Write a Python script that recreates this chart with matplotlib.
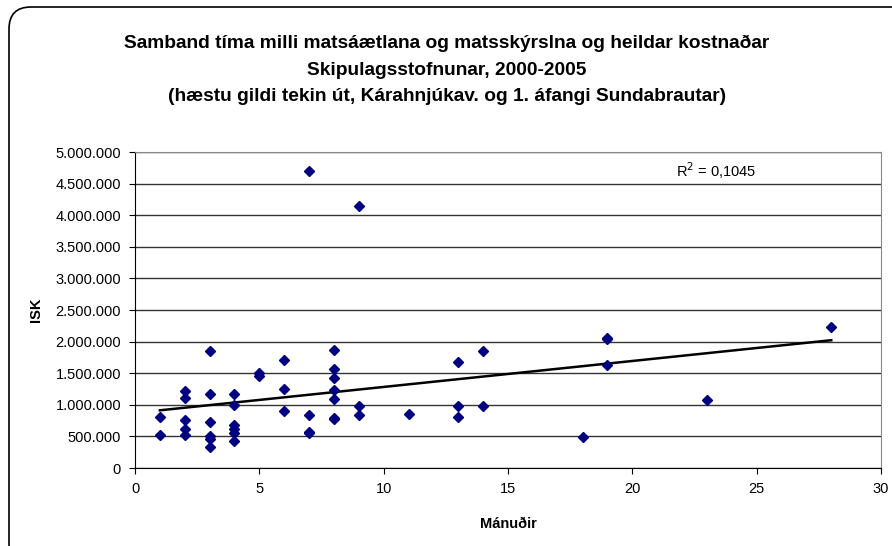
import numpy as np
import matplotlib.pyplot as plt
from matplotlib.patches import FancyBboxPatch
from matplotlib.transforms import IdentityTransform
from matplotlib.ticker import FuncFormatter

plt.rcParams['font.family'] = ['Liberation Sans', 'DejaVu Sans']

# months between plan and report
manudir = [1, 1,
           2, 2, 2, 2, 2,
           3, 3, 3, 3, 3, 3,
           4, 4, 4, 4, 4, 4,
           5, 5,
           6, 6, 6,
           7, 7, 7, 7,
           8, 8, 8, 8, 8, 8, 8,
           9, 9, 9,
           11,
           13, 13, 13,
           14, 14,
           18,
           19, 19, 19,
           23,
           28]
# total cost, ISK
kostn = [800000, 530000,
         1220000, 1100000, 760000, 610000, 515000,
         1845000, 1165000, 735000, 500000, 455000, 335000,
         1175000, 990000, 680000, 620000, 560000, 425000,
         1500000, 1450000,
         1715000, 1255000, 905000,
         4695000, 840000, 570000, 555000,
         1870000, 1570000, 1430000, 1240000, 1095000, 790000, 775000,
         4150000, 980000, 840000,
         860000,
         1670000, 980000, 800000,
         1845000, 980000,
         490000,
         2055000, 2040000, 1625000,
         1070000,
         2235000]

titill = ('Samband tíma milli matsáætlana og matsskýrslna og heildar kostnaðar\n'
          'Skipulagsstofnunar, 2000-2005\n'
          '(hæstu gildi tekin út, Kárahnjúkav. og 1. áfangi Sundabrautar)')

fig = plt.figure(figsize=(8.92, 5.46), dpi=100)
ax = fig.add_axes([135 / 892, 1 - 468 / 546, 746 / 892, 316 / 546])

# outer rounded chart border
fig.patches.append(FancyBboxPatch((9, -20), 905, 559,
                                  boxstyle='round,pad=0,rounding_size=22',
                                  transform=IdentityTransform(),
                                  fill=False, ec='black', lw=1.2))

x = np.array(manudir)
y = np.array(kostn)
k, b = np.polyfit(x, y, 1)
xs = np.array([x.min(), x.max()])

ax.plot(xs, k * xs + b, color='black', lw=1.8, zorder=2)
ax.plot(x, y, ls='none', marker='D', ms=5.5, color='#000080', zorder=3)

ax.set_xlim(0, 30)
ax.set_ylim(0, 5000000)
ax.set_xticks(range(0, 31, 5))
ax.set_yticks(range(0, 5000001, 500000))
ax.yaxis.set_major_formatter(FuncFormatter(lambda v, p: f'{int(v):,}'.replace(',', '.')))
ax.grid(axis='y', color='#333333', lw=1)
ax.set_axisbelow(True)
for s in ['top', 'right']:
    ax.spines[s].set_color('#888888')
for s in ['left', 'bottom']:
    ax.spines[s].set_color('black')
ax.tick_params(labelsize=10.5, length=4, direction='out', pad=6)

ax.text(21.75, 4700000, 'R$^2$ = 0,1045', fontsize=10.5, va='center', ha='left')

ax.set_xlabel('Mánuðir', fontsize=10.5, fontweight='bold', labelpad=15)
ax.set_ylabel('ISK', fontsize=10.5, fontweight='bold', labelpad=9)
fig.text(447 / 892, 1 - 70 / 546, titill, ha='center', va='center',
         fontsize=13.8, fontweight='bold', linespacing=1.72)

fig.savefig('out.png', dpi=100)
